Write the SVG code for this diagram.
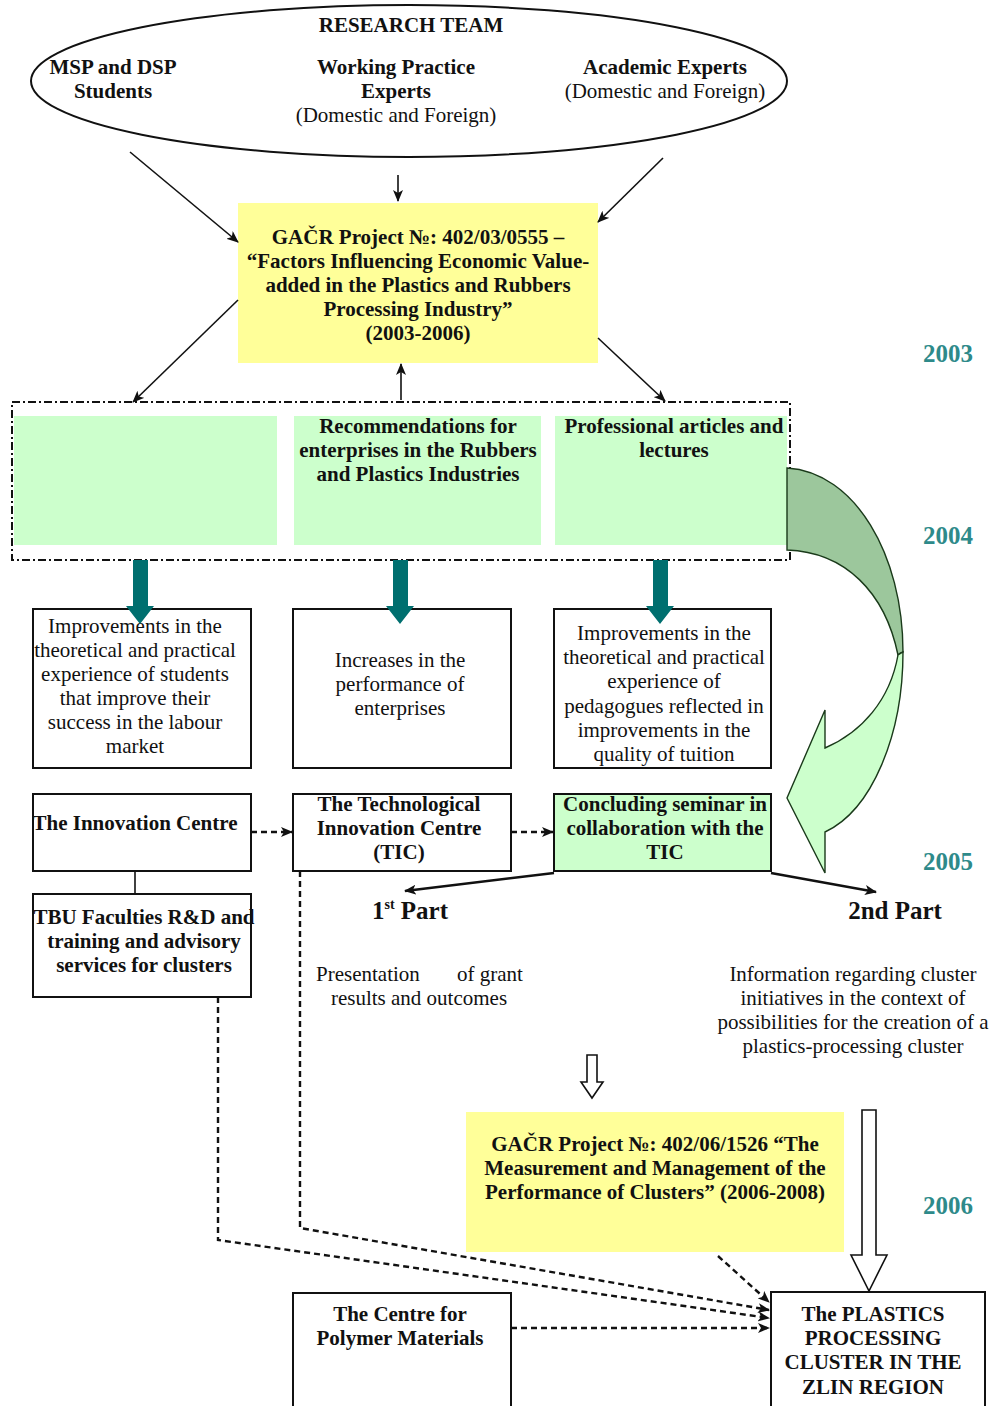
<svg xmlns="http://www.w3.org/2000/svg" width="994" height="1406" viewBox="0 0 994 1406">
  <style>
    text { font-family: "Liberation Serif", "Times New Roman", serif; font-size: 21px; fill: #111; text-anchor: middle; }
    .b { font-weight: bold; }
    .l { text-anchor: start; }
    .yr { font-weight: bold; font-size: 25px; fill: #2e8a8a; }
    .part { font-weight: bold; font-size: 25px; }
    .box { fill: #ffffff; stroke: #111; stroke-width: 2; }
    .grn { fill: #ccffcc; stroke: none; }
    .grnb { fill: #ccffcc; stroke: #111; stroke-width: 2; }
    .yel { fill: #ffff99; stroke: none; }
    .ln { stroke: #111; stroke-width: 1.6; fill: none; }
    .dash { stroke: #111; stroke-width: 2.4; fill: none; stroke-dasharray: 6 4; }
    .teal { fill: #006f6f; stroke: none; }
    .hollow { fill: #ffffff; stroke: #111; stroke-width: 1.6; }
  </style>
  <defs>
    <marker id="ah" markerWidth="12" markerHeight="10" refX="11" refY="5" orient="auto" markerUnits="userSpaceOnUse">
      <path d="M0,0 L12,5 L0,10 L3,5 z" fill="#111"/>
    </marker>
  </defs>

  <rect width="994" height="1406" fill="#ffffff"/>

  <!-- research team ellipse -->
  <g id="research-team">
    <ellipse cx="409" cy="81" rx="378" ry="76" fill="none" stroke="#111" stroke-width="2"/>
    <text class="b" x="411" y="32">RESEARCH TEAM</text>
    <text class="b" x="113" y="74">MSP and DSP</text>
    <text class="b" x="113" y="98">Students</text>
    <text class="b" x="396" y="74">Working Practice</text>
    <text class="b" x="396" y="98">Experts</text>
    <text x="396" y="122">(Domestic and Foreign)</text>
    <text class="b" x="665" y="74">Academic Experts</text>
    <text x="665" y="98">(Domestic and Foreign)</text>
  </g>

  <!-- first grant project -->
  <g id="project-2003">
    <rect class="yel" x="238" y="203" width="360" height="160"/>
    <text class="b" x="418" y="244">GAČR Project №: 402/03/0555 –</text>
    <text class="b" x="418" y="268">“Factors Influencing Economic Value-</text>
    <text class="b" x="418" y="292">added in the Plastics and Rubbers</text>
    <text class="b" x="418" y="316">Processing Industry”</text>
    <text class="b" x="418" y="340">(2003-2006)</text>
  </g>

  <!-- outputs frame -->
  <g id="outputs">
    <rect x="12" y="402" width="778" height="158" fill="none" stroke="#111" stroke-width="2" stroke-dasharray="8 3 2 3"/>
    <rect class="grn" x="14" y="416" width="263" height="129"/>
    <rect class="grn" x="294" y="416" width="247" height="129"/>
    <rect class="grn" x="555" y="416" width="232" height="129"/>
    <text class="b" x="418" y="433">Recommendations for</text>
    <text class="b" x="418" y="457">enterprises in the Rubbers</text>
    <text class="b" x="418" y="481">and Plastics Industries</text>
    <text class="b" x="674" y="433">Professional articles and</text>
    <text class="b" x="674" y="457">lectures</text>
  </g>

  <!-- curved feedback arrow -->
  <g id="curved-arrow" stroke="#1a3a1a" stroke-width="1.4">
    <path d="M787,468 C855,472 903,555 903,652 C900,653 899,654 898,655 C885,592 845,552 787,550 Z" fill="#9cc79c"/>
    <path d="M903,652 C903,735 872,810 825,832 L825,873 L787,798 L825,710 L825,748 C862,732 890,700 898,655 Z" fill="#ccffcc"/>
  </g>

  <g id="students-effect">
    <rect class="box" x="33" y="609" width="218" height="159"/>
    <text x="135" y="633">Improvements in the</text>
    <text x="135" y="657">theoretical and practical</text>
    <text x="135" y="681">experience of students</text>
    <text x="135" y="705">that improve their</text>
    <text x="135" y="729">success in the labour</text>
    <text x="135" y="753">market</text>
  </g>
  <g id="enterprise-effect">
    <rect class="box" x="293" y="609" width="218" height="159"/>
    <text x="400" y="667">Increases in the</text>
    <text x="400" y="691">performance of</text>
    <text x="400" y="715">enterprises</text>
  </g>
  <g id="pedagogue-effect">
    <rect class="box" x="554" y="609" width="217" height="159"/>
    <text x="664" y="640">Improvements in the</text>
    <text x="664" y="664">theoretical and practical</text>
    <text x="664" y="688">experience of</text>
    <text x="664" y="713">pedagogues reflected in</text>
    <text x="664" y="737">improvements in the</text>
    <text x="664" y="761">quality of tuition</text>
  </g>

  <!-- teal block arrows -->
  <g id="teal-arrows">
    <polygon class="teal" points="133,560 148,560 148,606 154,606 140,624 126,606 133,606"/>
    <polygon class="teal" points="393,560 408,560 408,606 414,606 400,624 386,606 393,606"/>
    <polygon class="teal" points="653,560 668,560 668,606 674,606 660,624 646,606 653,606"/>
  </g>

  <g id="innovation-centre">
    <rect class="box" x="33" y="794" width="218" height="77"/>
    <text class="b" x="135" y="830">The Innovation Centre</text>
  </g>
  <g id="tic">
    <rect class="box" x="293" y="794" width="218" height="77"/>
    <text class="b" x="399" y="811">The Technological</text>
    <text class="b" x="399" y="835">Innovation Centre</text>
    <text class="b" x="399" y="859">(TIC)</text>
  </g>
  <g id="seminar">
    <rect class="grnb" x="554" y="794" width="217" height="77"/>
    <text class="b" x="665" y="811">Concluding seminar in</text>
    <text class="b" x="665" y="835">collaboration with the</text>
    <text class="b" x="665" y="859">TIC</text>
  </g>
  <g id="tbu">
    <rect class="box" x="33" y="894" width="218" height="103"/>
    <text class="b" x="144" y="924">TBU Faculties R&amp;D and</text>
    <text class="b" x="144" y="948">training and advisory</text>
    <text class="b" x="144" y="972">services for clusters</text>
  </g>

  <g id="part-1">
    <text class="part" x="410" y="919">1<tspan font-size="14" dy="-10">st</tspan><tspan dy="10"> Part</tspan></text>
    <text class="l" x="316" y="981">Presentation</text>
    <text class="l" x="457" y="981">of grant</text>
    <text x="419" y="1005">results and outcomes</text>
  </g>
  <g id="part-2">
    <text class="part" x="895" y="919">2nd Part</text>
    <text x="853" y="981">Information regarding cluster</text>
    <text x="853" y="1005">initiatives in the context of</text>
    <text x="853" y="1029">possibilities for the creation of a</text>
    <text x="853" y="1053">plastics-processing cluster</text>
  </g>

  <g id="project-2006">
    <rect class="yel" x="466" y="1112" width="378" height="140"/>
    <text class="b" x="655" y="1151">GAČR Project №: 402/06/1526 “The</text>
    <text class="b" x="655" y="1175">Measurement and Management of the</text>
    <text class="b" x="655" y="1199">Performance of Clusters” (2006-2008)</text>
  </g>

  <g id="polymer-centre">
    <rect class="box" x="293" y="1293" width="218" height="125"/>
    <text class="b" x="400" y="1321">The Centre for</text>
    <text class="b" x="400" y="1345">Polymer Materials</text>
  </g>

  <g id="plastics-cluster">
    <rect class="box" x="771" y="1292" width="214" height="126"/>
    <text class="b" x="873" y="1321">The PLASTICS</text>
    <text class="b" x="873" y="1345">PROCESSING</text>
    <text class="b" x="873" y="1369">CLUSTER IN THE</text>
    <text class="b" x="873" y="1394">ZLIN REGION</text>
  </g>

  <g id="years">
    <text class="yr" x="948" y="362">2003</text>
    <text class="yr" x="948" y="544">2004</text>
    <text class="yr" x="948" y="870">2005</text>
    <text class="yr" x="948" y="1214">2006</text>
  </g>

  <!-- connectors -->
  <g id="connectors">
    <line class="ln" x1="130" y1="152" x2="238" y2="242" marker-end="url(#ah)"/>
    <line class="ln" x1="398" y1="175" x2="398" y2="201" marker-end="url(#ah)"/>
    <line class="ln" x1="663" y1="158" x2="598" y2="222" marker-end="url(#ah)"/>
    <line class="ln" x1="238" y1="300" x2="133" y2="402" marker-end="url(#ah)"/>
    <line class="ln" x1="401" y1="400" x2="401" y2="364" marker-end="url(#ah)"/>
    <line class="ln" x1="598" y1="338" x2="665" y2="401" marker-end="url(#ah)"/>

    <line class="dash" x1="251" y1="832" x2="292" y2="832" marker-end="url(#ah)"/>
    <line class="dash" x1="511" y1="832" x2="553" y2="832" marker-end="url(#ah)"/>
    <line class="ln" x1="135" y1="871" x2="135" y2="894"/>

    <line x1="554" y1="873" x2="405" y2="891" stroke="#111" stroke-width="2.4" marker-end="url(#ah)"/>
    <line x1="771" y1="873" x2="876" y2="892" stroke="#111" stroke-width="2.4" marker-end="url(#ah)"/>

    <polygon class="hollow" points="587,1055 597,1055 597,1082 603,1082 592,1098 581,1082 587,1082"/>
    <polygon class="hollow" points="862,1110 876,1110 876,1255 887,1255 869,1291 851,1255 862,1255"/>

    <polyline class="dash" points="218,997 218,1240 769,1318" stroke-width="2" marker-end="url(#ah)"/>
    <polyline class="dash" points="300,871 300,1228 769,1310" stroke-width="2" marker-end="url(#ah)"/>
    <line class="dash" x1="718" y1="1256" x2="769" y2="1302" marker-end="url(#ah)"/>
    <line class="dash" x1="511" y1="1328" x2="769" y2="1328" marker-end="url(#ah)"/>
  </g>
</svg>
